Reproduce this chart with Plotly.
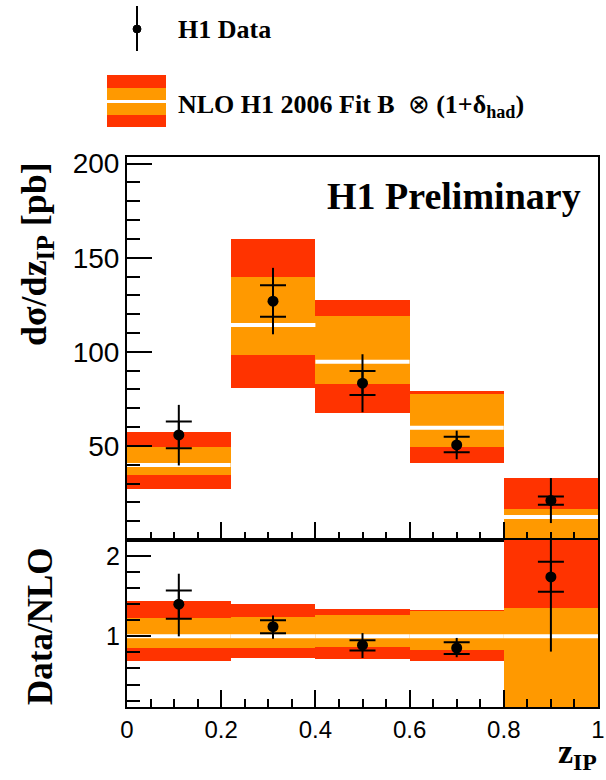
import plotly.graph_objects as go

# ---------------- data ----------------
bin_lo = [0.0, 0.22, 0.4, 0.6, 0.8]
bin_hi = [0.22, 0.4, 0.6, 0.8, 1.0]
x_data = [0.11, 0.31, 0.5, 0.7, 0.9]

# NLO prediction (top panel, pb)
nlo_central = [39.9, 114.2, 94.7, 59.7, 12.2]
nlo_inner_up = [49.3, 139.8, 119.0, 77.4, 16.4]
nlo_inner_dn = [34.6, 98.3, 82.9, 49.6, -5.0]
nlo_outer_up = [57.3, 159.8, 127.5, 79.4, 32.9]
nlo_outer_dn = [27.0, 80.6, 67.4, 40.8, -10.0]

# H1 data (top panel, pb)
data_y = [55.8, 126.9, 83.3, 50.5, 21.0]
data_stat_up = [62.9, 135.4, 89.8, 54.9, 23.1]
data_stat_dn = [48.8, 118.6, 77.1, 46.6, 18.7]
data_tot_up = [71.8, 144.6, 98.7, 58.1, 32.9]
data_tot_dn = [39.6, 109.3, 67.9, 42.9, 9.0]

# Ratio panel (Data/NLO)
r_central = [1.0, 1.0, 1.0, 1.0, 1.0]
r_inner_up = [1.23, 1.24, 1.26, 1.31, 1.35]
r_inner_dn = [0.86, 0.855, 0.87, 0.83, -0.4]
r_outer_up = [1.44, 1.40, 1.34, 1.33, 2.7]
r_outer_dn = [0.69, 0.73, 0.72, 0.69, -0.8]

r_data = [1.40, 1.12, 0.89, 0.855, 1.74]
r_stat_up = [1.57, 1.20, 0.95, 0.925, 1.93]
r_stat_dn = [1.22, 1.04, 0.825, 0.78, 1.555]
r_tot_up = [1.78, 1.26, 1.04, 0.98, 2.7]
r_tot_dn = [1.0, 0.97, 0.73, 0.74, 0.81]

x_tickvals = [0, 0.2, 0.4, 0.6, 0.8, 1]
x_ticktext = ["0", "0.2", "0.4", "0.6", "0.8", "1"]
y_top_tickvals = [50, 100, 150, 200]
y_bot_tickvals = [1, 2]

# ---------------- styles ----------------
RED = "#FF3300"
ORANGE = "#FF9900"
SERIF = "Liberation Serif"
SANS = "Liberation Sans"

W, H = 606, 780
ML, MR, MT, MB = 127, 8, 157, 73
PW, PH = W - ML - MR, H - MT - MB
SPLIT = (707 - 540) / PH  # bottom panel domain top


def px2paper_x(p):
    return (p - ML) / PW


def px2paper_y(p):
    return (H - MB - p) / PH


fig = go.Figure()

centers = [(a + b) / 2 for a, b in zip(bin_lo, bin_hi)]
widths = [b - a for a, b in zip(bin_lo, bin_hi)]


def add_band(xa, ya, central, in_up, in_dn, out_up, out_dn):
    fig.add_trace(go.Bar(x=centers, width=widths, base=out_dn,
                         y=[u - d for u, d in zip(out_up, out_dn)],
                         marker=dict(color=RED, line=dict(width=0)),
                         xaxis=xa, yaxis=ya, showlegend=False, hoverinfo="skip"))
    fig.add_trace(go.Bar(x=centers, width=widths, base=in_dn,
                         y=[u - d for u, d in zip(in_up, in_dn)],
                         marker=dict(color=ORANGE, line=dict(width=0)),
                         xaxis=xa, yaxis=ya, showlegend=False, hoverinfo="skip"))
    lx, ly = [], []
    for a, b, c in zip(bin_lo, bin_hi, central):
        lx += [a, b, None]
        ly += [c, c, None]
    fig.add_trace(go.Scatter(x=lx, y=ly, mode="lines",
                             line=dict(color="white", width=4),
                             xaxis=xa, yaxis=ya, showlegend=False, hoverinfo="skip"))


def add_points(xa, ya, y, s_up, s_dn, t_up, t_dn):
    fig.add_trace(go.Scatter(
        x=x_data, y=y, mode="markers",
        marker=dict(size=0.1, color="black"),
        error_y=dict(type="data", symmetric=False,
                     array=[u - v for u, v in zip(t_up, y)],
                     arrayminus=[v - d for v, d in zip(y, t_dn)],
                     color="black", thickness=2, width=0),
        xaxis=xa, yaxis=ya, showlegend=False, hoverinfo="skip"))
    fig.add_trace(go.Scatter(
        x=x_data, y=y, mode="markers",
        marker=dict(size=11, color="black"),
        error_y=dict(type="data", symmetric=False,
                     array=[u - v for u, v in zip(s_up, y)],
                     arrayminus=[v - d for v, d in zip(y, s_dn)],
                     color="black", thickness=2, width=13),
        xaxis=xa, yaxis=ya, showlegend=False, hoverinfo="skip"))


add_band("x", "y", nlo_central, nlo_inner_up, nlo_inner_dn, nlo_outer_up, nlo_outer_dn)
add_points("x", "y", data_y, data_stat_up, data_stat_dn, data_tot_up, data_tot_dn)
add_band("x2", "y2", r_central, r_inner_up, r_inner_dn, r_outer_up, r_outer_dn)
add_points("x2", "y2", r_data, r_stat_up, r_stat_dn, r_tot_up, r_tot_dn)

axis_common = dict(showline=True, linecolor="black", linewidth=2, mirror=True,
                   showgrid=False, zeroline=False, ticks="inside",
                   tickcolor="black", tickwidth=2, automargin=False)

xminor = dict(ticks="inside", ticklen=8, tickwidth=2, tickcolor="black",
              tickmode="linear", tick0=0, dtick=0.05, showgrid=False)

fig.update_layout(
    width=W, height=H,
    margin=dict(l=ML, r=MR, t=MT, b=MB, pad=0, autoexpand=False),
    paper_bgcolor="white", plot_bgcolor="white",
    barmode="overlay", bargap=0, showlegend=False,
    xaxis=dict(domain=[0, 1], range=[0, 1], anchor="y",
               tickvals=x_tickvals, showticklabels=False, ticklen=18,
               minor=xminor, **axis_common),
    yaxis=dict(domain=[SPLIT, 1], range=[0, 203.5], anchor="x",
               tickvals=y_top_tickvals, ticklen=25,
               tickfont=dict(family=SANS, size=28, color="black"),
               minor=dict(ticks="inside", ticklen=13, tickwidth=2, tickcolor="black",
                          tickmode="linear", tick0=0, dtick=10, showgrid=False),
               **axis_common),
    xaxis2=dict(domain=[0, 1], range=[0, 1], anchor="y2",
                tickvals=x_tickvals, ticktext=x_ticktext, ticklen=17,
                tickfont=dict(family=SANS, size=24, color="black"),
                minor=xminor, **axis_common),
    yaxis2=dict(domain=[0, SPLIT], range=[0.12, 2.2], anchor="x2",
                tickvals=y_bot_tickvals, ticklen=24,
                tickfont=dict(family=SANS, size=25, color="black"),
                minor=dict(ticks="inside", ticklen=13, tickwidth=2, tickcolor="black",
                           tickmode="linear", tick0=0, dtick=0.2, showgrid=False),
                **axis_common),
)

# ---------------- legend (drawn manually) ----------------
shapes = []
lx = px2paper_x(137)
shapes.append(dict(type="line", xref="paper", yref="paper",
                   x0=lx, x1=lx, y0=px2paper_y(6), y1=px2paper_y(51),
                   line=dict(color="black", width=2)))
shapes.append(dict(type="circle", xref="paper", yref="paper",
                   x0=px2paper_x(133), x1=px2paper_x(141),
                   y0=px2paper_y(25), y1=px2paper_y(33),
                   fillcolor="black", line=dict(color="black", width=1)))
for (p0, p1, col) in [(75, 88, RED), (88, 100, ORANGE), (100, 103, "white"),
                      (103, 115, ORANGE), (115, 127, RED)]:
    shapes.append(dict(type="rect", xref="paper", yref="paper",
                       x0=px2paper_x(107), x1=px2paper_x(166),
                       y0=px2paper_y(p1), y1=px2paper_y(p0),
                       fillcolor=col, line=dict(width=0)))
fig.update_layout(shapes=shapes)

ann = []
ann.append(dict(text="<b>H1 Data</b>", xref="paper", yref="paper",
                x=px2paper_x(176), y=px2paper_y(30), xanchor="left", yanchor="middle",
                showarrow=False, font=dict(family=SERIF, size=26, color="black")))
ann.append(dict(text="<b>NLO H1 2006 Fit B</b>  \u2297 <b>(1+\u03b4<sub>had</sub>)</b>",
                xref="paper", yref="paper",
                x=px2paper_x(176), y=px2paper_y(106), xanchor="left", yanchor="middle",
                showarrow=False, font=dict(family=SERIF, size=26, color="black")))
ann.append(dict(text="<b>H1 Preliminary</b>", xref="paper", yref="paper",
                x=px2paper_x(583), y=px2paper_y(196), xanchor="right", yanchor="middle",
                showarrow=False, font=dict(family=SERIF, size=38, color="black")))
ann.append(dict(text="<b>d\u03c3/dz<sub>IP</sub> [pb]</b>", xref="paper", yref="paper",
                x=px2paper_x(36), y=px2paper_y(254), xanchor="center", yanchor="middle",
                textangle=-90, showarrow=False,
                font=dict(family=SERIF, size=36, color="black")))
ann.append(dict(text="<b>Data/NLO</b>", xref="paper", yref="paper",
                x=px2paper_x(40), y=px2paper_y(626), xanchor="center", yanchor="middle",
                textangle=-90, showarrow=False,
                font=dict(family=SERIF, size=35, color="black")))
ann.append(dict(text="<b>z<sub>IP</sub></b>", xref="paper", yref="paper",
                x=px2paper_x(599), y=px2paper_y(754), xanchor="right", yanchor="middle",
                showarrow=False, font=dict(family=SERIF, size=34, color="black")))
fig.update_layout(annotations=ann)

fig.write_html("out.html",
               config={"displayModeBar": False},
               post_script="document.body.style.margin='0px';"
                           "document.body.style.overflow='hidden';")
